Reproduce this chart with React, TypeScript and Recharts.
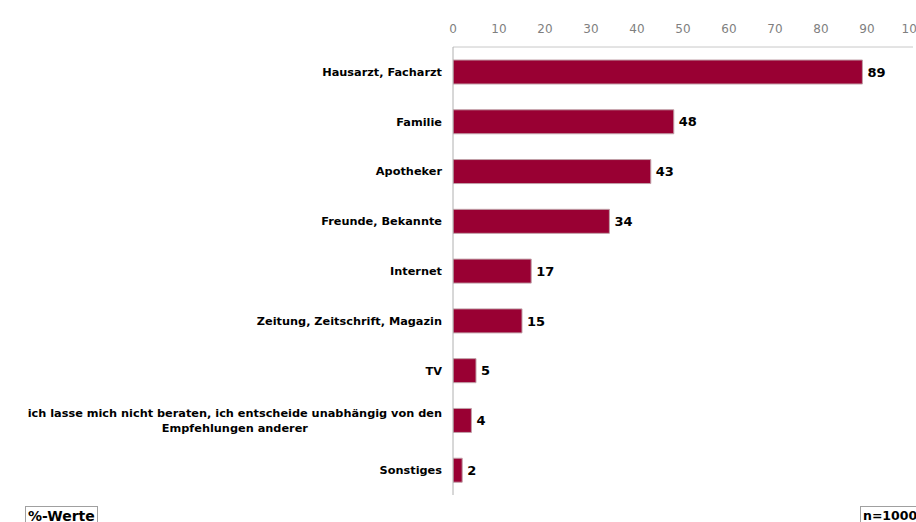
import React from 'react';
import { BarChart, Bar, XAxis, YAxis, LabelList } from 'recharts';

const categories = [
  'Hausarzt, Facharzt',
  'Familie',
  'Apotheker',
  'Freunde, Bekannte',
  'Internet',
  'Zeitung, Zeitschrift, Magazin',
  'TV',
  'ich lasse mich nicht beraten, ich entscheide unabhängig von den\nEmpfehlungen anderer',
  'Sonstiges',
];
const values = [89, 48, 43, 34, 17, 15, 5, 4, 2];
const xTicks = [0, 10, 20, 30, 40, 50, 60, 70, 80, 90, 100];

const FONT = '"DejaVu Sans", Verdana, sans-serif';
const LABEL_SIZE = 11.3;
const data = categories.map((name, i) => ({ name, value: values[i] }));

let ctx: CanvasRenderingContext2D | null = null;
function textWidth(s: string, font: string) {
  if (!ctx) ctx = document.createElement('canvas').getContext('2d');
  if (!ctx) return s.length * 7;
  ctx.font = font;
  return ctx.measureText(s).width;
}

function CategoryTick(props: any) {
  const { x, y, payload } = props;
  const lines = String(payload.value).split('\n');
  const style = { fontFamily: FONT, fontSize: LABEL_SIZE, fontWeight: 700, fill: '#000' };
  if (lines.length === 1) {
    return (
      <text x={x} y={y} dy={4} textAnchor="end" {...style}>
        {lines[0]}
      </text>
    );
  }
  // multi-line label: lines centred on each other, block right-aligned
  const w = Math.max(...lines.map((l) => textWidth(l, `700 ${LABEL_SIZE}px ${FONT}`)));
  const cx = x - w / 2;
  const lh = 15;
  const y0 = y - ((lines.length - 1) * lh) / 2 + 4;
  return (
    <text textAnchor="middle" {...style}>
      {lines.map((l, i) => (
        <tspan key={i} x={cx} y={y0 + i * lh}>
          {l}
        </tspan>
      ))}
    </text>
  );
}

const boxStyle: React.CSSProperties = {
  position: 'absolute',
  top: 506,
  border: '1px solid #a0a0a0',
  fontFamily: FONT,
  fontWeight: 700,
  fontSize: 14,
  lineHeight: '16px',
  padding: '1px 2px 0 2px',
  background: '#fff',
  whiteSpace: 'nowrap',
};

export default function App() {
  return (
    <div style={{ position: 'absolute', left: 0, top: 0, width: 916, height: 522, overflow: 'hidden', background: '#fff' }}>
      <BarChart
        width={916}
        height={522}
        data={data}
        layout="vertical"
        margin={{ top: 0, right: 3, bottom: 27, left: 0 }}
      >
        <XAxis
          type="number"
          orientation="top"
          domain={[0, 100]}
          ticks={xTicks}
          interval={0}
          height={47}
          tickLine={false}
          tickSize={4}
          tickMargin={10}
          axisLine={{ stroke: '#c8c8c8' }}
          tick={{ fill: '#7f7f7f', fontSize: 12, fontFamily: FONT }}
          allowDataOverflow
        />
        <YAxis
          type="category"
          dataKey="name"
          width={453}
          interval={0}
          tickLine={false}
          tickSize={0}
          tickMargin={11}
          axisLine={{ stroke: '#b0b0b0' }}
          tick={<CategoryTick />}
        />
        <Bar
          dataKey="value"
          barSize={24}
          fill="#990033"
          stroke="#c0a0a8"
          strokeWidth={1}
          isAnimationActive={false}
        >
          <LabelList
            dataKey="value"
            position="right"
            offset={5}
            style={{ fontFamily: FONT, fontSize: 13, fontWeight: 700, fill: '#000' }}
          />
        </Bar>
      </BarChart>
      <div style={{ ...boxStyle, left: 25 }}>%-Werte</div>
      <div style={{ ...boxStyle, left: 860, fontSize: 12.5 }}>n=1000</div>
    </div>
  );
}
